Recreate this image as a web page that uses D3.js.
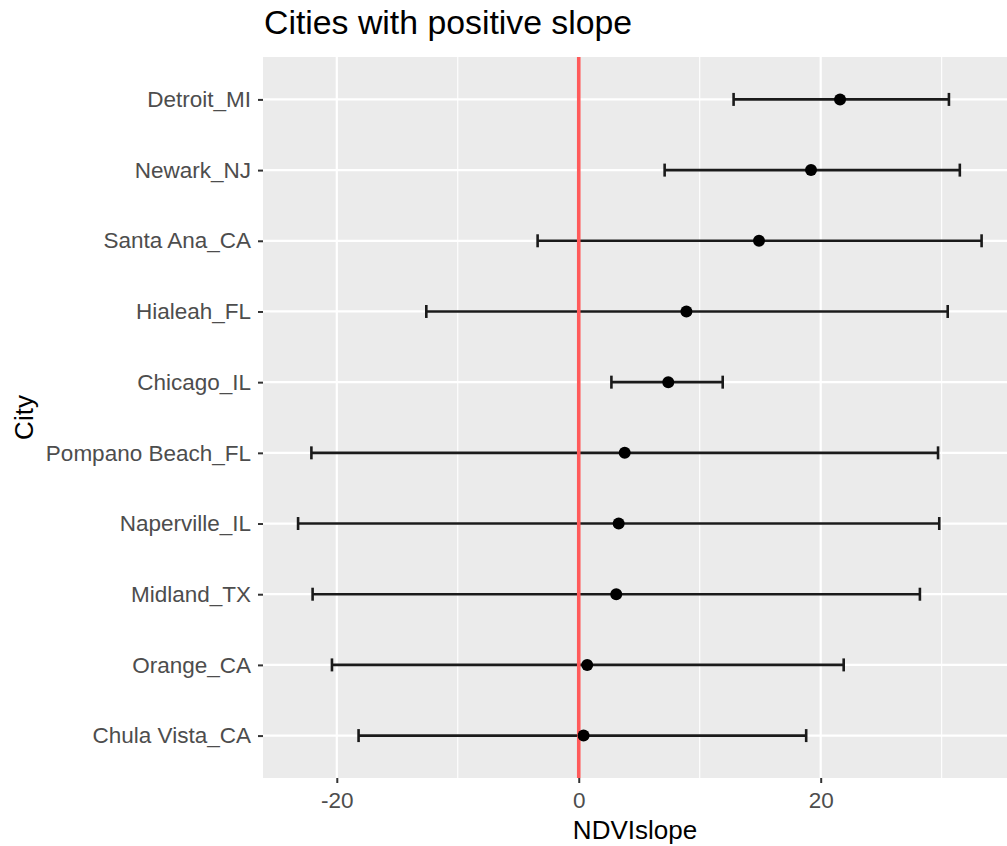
<!DOCTYPE html>
<html>
<head>
<meta charset="utf-8">
<script src="https://cdn.jsdelivr.net/npm/d3@7"></script>
<style>
  body { margin: 0; background: #fff; }
  svg text { font-family: "Liberation Sans", Arial, Helvetica, sans-serif; }
</style>
</head>
<body>
<script>
// city estimates with lower / upper bounds, top to bottom
var cities = ["Detroit_MI", "Newark_NJ", "Santa Ana_CA", "Hialeah_FL", "Chicago_IL",
              "Pompano Beach_FL", "Naperville_IL", "Midland_TX", "Orange_CA", "Chula Vista_CA"];
var slope = [21.6, 19.2, 14.9, 8.9, 7.4, 3.8, 3.3, 3.1, 0.7, 0.4];
var lower = [12.8, 7.1, -3.4, -12.6, 2.7, -22.1, -23.2, -22.0, -20.4, -18.2];
var upper = [30.6, 31.5, 33.3, 30.5, 11.9, 29.7, 29.8, 28.2, 21.9, 18.8];
var majorTicks = [-20, 0, 20];
var minorTicks = [-10, 10, 30];

var width = 1007, height = 846;
var pLeft = 263, pRight = 1007, pTop = 57, pBottom = 778;

var svg = d3.select("body").append("svg")
    .attr("width", width)
    .attr("height", height);

var x = d3.scaleLinear().domain([-26.1, 35.4]).range([pLeft, pRight]);
var y = d3.scalePoint().domain(cities).range([pTop, pBottom]).padding(0.6);

// panel
svg.append("rect")
    .attr("x", pLeft).attr("y", pTop)
    .attr("width", pRight - pLeft).attr("height", pBottom - pTop)
    .attr("fill", "#ebebeb");

var grid = svg.append("g");
grid.selectAll(".minor").data(minorTicks).enter().append("line")
    .attr("x1", d => x(d)).attr("x2", d => x(d))
    .attr("y1", pTop).attr("y2", pBottom)
    .attr("stroke", "#fff").attr("stroke-width", 1.1);
grid.selectAll(".major").data(majorTicks).enter().append("line")
    .attr("x1", d => x(d)).attr("x2", d => x(d))
    .attr("y1", pTop).attr("y2", pBottom)
    .attr("stroke", "#fff").attr("stroke-width", 2.2);
grid.selectAll(".ymajor").data(cities).enter().append("line")
    .attr("x1", pLeft).attr("x2", pRight)
    .attr("y1", d => y(d)).attr("y2", d => y(d))
    .attr("stroke", "#fff").attr("stroke-width", 2.2);

// error bars
var capH = 6.5;
var bars = svg.append("g").attr("stroke", "#1a1a1a").attr("stroke-width", 2.6);
cities.forEach(function(c, i) {
    bars.append("line")
        .attr("x1", x(lower[i])).attr("x2", x(upper[i]))
        .attr("y1", y(c)).attr("y2", y(c));
    bars.append("line")
        .attr("x1", x(lower[i])).attr("x2", x(lower[i]))
        .attr("y1", y(c) - capH).attr("y2", y(c) + capH);
    bars.append("line")
        .attr("x1", x(upper[i])).attr("x2", x(upper[i]))
        .attr("y1", y(c) - capH).attr("y2", y(c) + capH);
});

// zero line
svg.append("line")
    .attr("x1", x(0)).attr("x2", x(0))
    .attr("y1", pTop).attr("y2", pBottom)
    .attr("stroke", "#ff5a5a").attr("stroke-width", 3.6);

// points
svg.append("g").selectAll("circle").data(cities).enter().append("circle")
    .attr("cx", (d, i) => x(slope[i]))
    .attr("cy", d => y(d))
    .attr("r", 6)
    .attr("fill", "#000");

// axes
var xAxis = svg.append("g")
    .attr("transform", "translate(0," + pBottom + ")")
    .call(d3.axisBottom(x).tickValues(majorTicks).tickSize(5).tickPadding(9).tickFormat(d3.format("d")));
var yAxis = svg.append("g")
    .attr("transform", "translate(" + pLeft + ",0)")
    .call(d3.axisLeft(y).tickSize(5).tickPadding(7));

[xAxis, yAxis].forEach(function(a) {
    a.select(".domain").remove();
    a.selectAll(".tick line").attr("stroke", "#333").attr("stroke-width", 2);
    a.selectAll(".tick text").attr("fill", "#4d4d4d").style("font-size", "22.5px");
});
xAxis.selectAll(".tick text").text(d => d < 0 ? "-" + Math.abs(d) : d);

// titles
svg.append("text")
    .attr("x", 264).attr("y", 34)
    .style("font-size", "33.8px")
    .attr("fill", "#000")
    .text("Cities with positive slope");

svg.append("text")
    .attr("x", (pLeft + pRight) / 2).attr("y", 839)
    .attr("text-anchor", "middle")
    .style("font-size", "26px")
    .attr("fill", "#000")
    .text("NDVIslope");

svg.append("text")
    .attr("transform", "translate(33," + ((pTop + pBottom) / 2) + ") rotate(-90)")
    .attr("text-anchor", "middle")
    .style("font-size", "26px")
    .attr("fill", "#000")
    .text("City");
</script>
</body>
</html>
